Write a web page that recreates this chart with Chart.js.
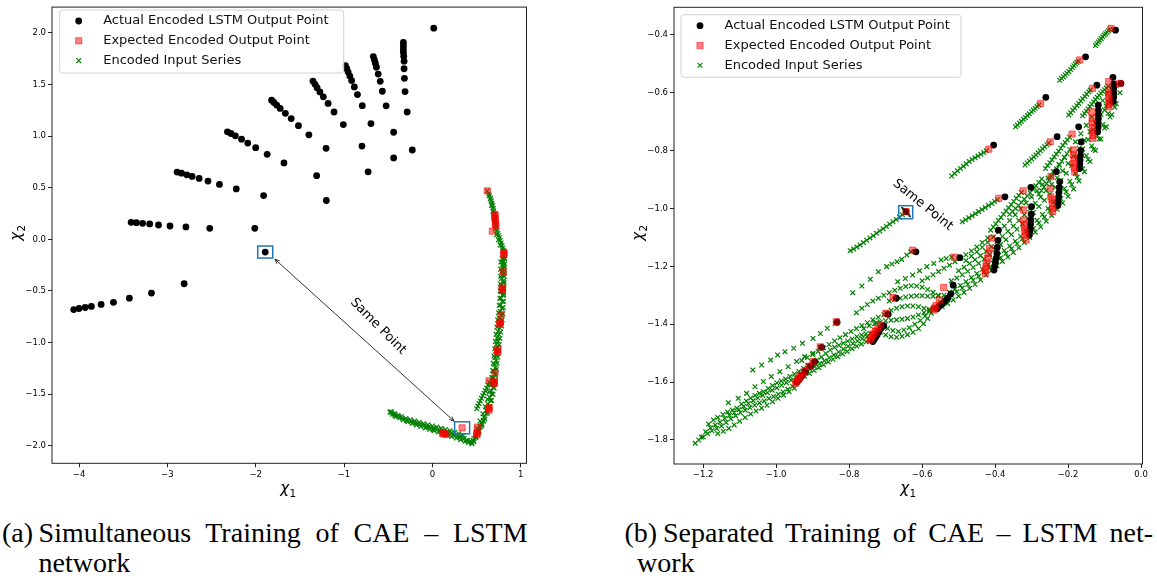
<!DOCTYPE html>
<html>
<head>
<meta charset="utf-8">
<script src="https://cdn.jsdelivr.net/npm/chart.js@4.4.0/dist/chart.umd.min.js"></script>
<style>
  body { margin: 0; background: #fff; width: 1157px; height: 585px; position: relative; overflow: hidden; }
  canvas { position: absolute; top: 0; }
  .cap { position: absolute; font-family: "Liberation Serif", serif; font-size: 28px; line-height: 30px; color: #000; white-space: nowrap; }
  .just { text-align: justify; text-align-last: justify; white-space: normal; }
</style>
</head>
<body>
<canvas id="left" width="560" height="500" style="left:0"></canvas>
<canvas id="right" width="567" height="500" style="left:590px"></canvas>

<div class="cap" style="left:2px;top:518px">(a)</div>
<div class="cap just" style="left:38.6px;top:518px;width:489px">Simultaneous Training of CAE – LSTM</div>
<div class="cap" style="left:38.6px;top:548px">network</div>

<div class="cap" style="left:624.4px;top:518px">(b)</div>
<div class="cap just" style="left:663px;top:518px;width:490px">Separated Training of CAE – LSTM net-</div>
<div class="cap" style="left:637px;top:548px">work</div>

<script>
// tick labels
const leftXTicks = [-4, -3, -2, -1, 0, 1];
const leftYTicks = [-2, -1.5, -1, -0.5, 0, 0.5, 1, 1.5, 2];
const rightXTicks = [-1.2, -1.0, -0.8, -0.6, -0.4, -0.2, 0];
const rightYTicks = [-1.8, -1.6, -1.4, -1.2, -1.0, -0.8, -0.6, -0.4];

const seriesLabels = ["Actual Encoded LSTM Output Point", "Expected Encoded Output Point", "Encoded Input Series"];

// ---------- (a) simultaneous training ----------
const leftActual = [
  [-4.06,-0.68],[-4.00,-0.67],[-3.93,-0.66],[-3.86,-0.65],[-3.75,-0.63],[-3.61,-0.61],[-3.43,-0.57],[-3.18,-0.52],[-2.81,-0.43],
  [-1.892,-0.123],
  [-3.41,0.165],[-3.35,0.161],[-3.28,0.155],[-3.20,0.149],[-3.10,0.139],[-2.97,0.129],[-2.79,0.120],[-2.52,0.107],[-2.01,0.107],
  [-2.89,0.651],[-2.84,0.641],[-2.78,0.625],[-2.72,0.609],[-2.64,0.590],[-2.54,0.564],[-2.41,0.532],[-2.22,0.488],[-1.91,0.424],[-1.20,0.376],
  [-2.32,1.041],[-2.28,1.025],[-2.23,1.002],[-2.16,0.970],[-2.09,0.932],[-2.00,0.888],[-1.87,0.823],[-1.68,0.740],[-1.31,0.616],[-0.727,0.654],
  [-1.820,1.348],[-1.793,1.325],[-1.762,1.300],[-1.723,1.268],[-1.664,1.220],[-1.598,1.169],[-1.516,1.101],[-1.398,1.012],[-1.203,0.881],[-0.438,0.788],
  [-1.352,1.533],[-1.328,1.501],[-1.305,1.469],[-1.273,1.428],[-1.234,1.380],[-1.180,1.316],[-1.113,1.233],[-1.008,1.111],[-0.797,0.903],[-0.227,0.865],
  [-0.984,1.683],[-0.969,1.652],[-0.953,1.620],[-0.934,1.581],[-0.914,1.537],[-0.883,1.476],[-0.848,1.402],[-0.793,1.294],[-0.695,1.121],
  [-0.668,1.770],[-0.656,1.738],[-0.645,1.706],[-0.633,1.667],[-0.613,1.600],[-0.590,1.530],[-0.566,1.434],[-0.523,1.293],[-0.438,1.037],
  [-0.328,1.907],[-0.328,1.876],[-0.328,1.844],[-0.328,1.812],[-0.324,1.773],[-0.320,1.725],[-0.320,1.652],[-0.316,1.559],[-0.309,1.431],[-0.285,1.233],
  [0.016,2.045]
];

const leftExpected = [
  [0.622,0.469],
  [0.709,0.240],[0.709,0.229],[0.710,0.205],[0.712,0.181],[0.717,0.150],[0.717,0.133],
  [0.679,0.079],
  [0.811,-0.130],[0.811,-0.139],[0.809,-0.150],
  [0.803,-0.315],
  [0.792,-0.470],[0.792,-0.481],[0.792,-0.492],
  [0.777,-0.730],
  [0.768,-0.800],[0.766,-0.810],[0.764,-0.822],
  [0.741,-1.070],[0.739,-1.082],[0.738,-1.095],
  [0.709,-1.290],
  [0.703,-1.375],[0.701,-1.386],[0.700,-1.398],
  [0.641,-1.370],
  [0.643,-1.628],[0.641,-1.641],[0.640,-1.655],
  [0.509,-1.818],
  [0.507,-1.870],[0.505,-1.881],[0.505,-1.893],
  [0.337,-1.825],
  [0.115,-1.880],[0.124,-1.881],[0.140,-1.884],[0.161,-1.888]
];

const leftInputMain = [
  [0.622,0.469],[0.644,0.421],[0.667,0.373],[0.683,0.325],[0.694,0.277],[0.705,0.229],[0.713,0.181],[0.720,0.133],
  [0.732,0.085],[0.750,0.037],[0.769,-0.011],[0.788,-0.059],[0.803,-0.107],[0.807,-0.155],[0.807,-0.219],[0.803,-0.283],
  [0.803,-0.347],[0.799,-0.411],[0.799,-0.475],[0.796,-0.539],[0.792,-0.603],[0.788,-0.667],[0.780,-0.731],[0.773,-0.795],
  [0.765,-0.859],[0.754,-0.922],[0.746,-0.986],[0.739,-1.050],[0.731,-1.114],[0.724,-1.178],[0.716,-1.242],[0.709,-1.306],
  [0.701,-1.370],[0.690,-1.434],[0.675,-1.497],[0.660,-1.562],[0.637,-1.626],[0.611,-1.689],[0.577,-1.753],[0.539,-1.818],
  [0.501,-1.881],[0.471,-1.929],[0.437,-1.962]
];
const leftInputSecond = [
  [0.640,0.440],[0.660,0.400],[0.675,0.350],[0.690,0.300],[0.700,0.250],[0.710,0.200],[0.715,0.155],[0.725,0.110],
  [0.740,0.060],[0.760,0.015],[0.778,-0.035],[0.795,-0.083],
  [0.790,-0.187],[0.788,-0.251],[0.786,-0.315],[0.784,-0.379],[0.782,-0.443],[0.780,-0.507],[0.777,-0.571],[0.773,-0.635],
  [0.768,-0.699],[0.760,-0.763],[0.752,-0.827],[0.743,-0.890],[0.733,-0.954],[0.724,-1.018],[0.716,-1.082],[0.708,-1.146],
  [0.700,-1.210],[0.692,-1.274],[0.684,-1.338],[0.676,-1.402],[0.664,-1.466],[0.648,-1.530],[0.630,-1.594],[0.610,-1.658],
  [0.588,-1.722],[0.560,-1.786],[0.525,-1.850],[0.490,-1.905],[0.460,-1.945]
];
const leftInputThird = [
  [0.815,-0.120],[0.818,-0.180],[0.817,-0.240],[0.815,-0.300],[0.814,-0.360],[0.812,-0.420],[0.810,-0.480],[0.808,-0.540],
  [0.805,-0.600],[0.802,-0.660],[0.797,-0.720],[0.790,-0.780],[0.783,-0.840],[0.774,-0.900],[0.765,-0.960],[0.757,-1.020],
  [0.749,-1.080],[0.741,-1.140],[0.733,-1.200],[0.725,-1.260],[0.718,-1.320],[0.710,-1.380],[0.700,-1.440],[0.687,-1.500],
  [0.670,-1.560],[0.650,-1.620],[0.625,-1.680],[0.595,-1.740],[0.562,-1.800],[0.528,-1.860],[0.495,-1.915],[0.465,-1.955]
];
const leftInputFourth = [
  [0.775,-0.220],[0.773,-0.290],[0.772,-0.360],[0.770,-0.430],[0.768,-0.500],[0.764,-0.570],[0.758,-0.640],[0.750,-0.710],
  [0.740,-0.780],[0.730,-0.850],[0.722,-0.920],[0.714,-0.990],[0.706,-1.060],[0.698,-1.130],[0.690,-1.200],[0.682,-1.270],
  [0.673,-1.340],[0.660,-1.410],[0.644,-1.480],[0.625,-1.550],[0.600,-1.620],[0.572,-1.690],[0.540,-1.760],[0.505,-1.830],
  [0.655,0.390],[0.668,0.330],[0.685,0.270],[0.696,0.215],[0.702,0.160],[0.712,0.100],[0.728,0.045],[0.748,-0.005],[0.768,-0.055]
];
const leftInputCorner = [
  [0.450,-1.980],[0.470,-1.960],[0.490,-1.920],[0.520,-1.870],[0.550,-1.810],[0.580,-1.760],
  [0.815,-0.190],[0.812,-0.260],[0.812,-0.330],[0.808,-0.400],[0.806,-0.460],[0.805,-0.520]
];
const leftInputArmUpper = [
  [-0.470,-1.668],[-0.430,-1.690],[-0.390,-1.706],[-0.350,-1.718],[-0.300,-1.735],[-0.250,-1.748],[-0.200,-1.760],
  [-0.150,-1.772],[-0.100,-1.785],[-0.050,-1.796],[0.000,-1.808],[0.050,-1.818],[0.100,-1.830],[0.150,-1.842],
  [0.200,-1.855],[0.250,-1.868],[0.300,-1.882],[0.350,-1.900]
];
const leftInputArmMid = [
  [-0.460,-1.680],[-0.420,-1.698],[-0.380,-1.716],[-0.340,-1.732],[-0.290,-1.748],[-0.240,-1.763],[-0.190,-1.778],
  [-0.140,-1.790],[-0.090,-1.803],[-0.040,-1.816],[0.010,-1.830],[0.060,-1.842],[0.110,-1.855],[0.160,-1.866],
  [0.210,-1.880],[0.260,-1.895],[0.310,-1.910],[0.360,-1.928],[0.400,-1.950]
];
const leftInputArmLower = [
  [-0.480,-1.674],[-0.450,-1.695],[-0.424,-1.706],[-0.410,-1.715],[-0.367,-1.728],[-0.330,-1.748],[-0.291,-1.754],
  [-0.280,-1.766],[-0.230,-1.782],[-0.216,-1.776],[-0.180,-1.797],[-0.140,-1.792],[-0.130,-1.812],[-0.080,-1.826],
  [-0.065,-1.818],[-0.030,-1.840],[0.010,-1.843],[0.020,-1.853],[0.070,-1.866],[0.086,-1.859],[0.120,-1.880],
  [0.162,-1.875],[0.170,-1.895],[0.220,-1.910],[0.237,-1.891],[0.270,-1.925],[0.313,-1.920],[0.320,-1.940],
  [0.370,-1.955],[0.388,-1.945],[0.410,-1.968],[0.445,-1.971]
];
const leftInputBranch = [
  [0.502,-1.641],[0.515,-1.615],[0.528,-1.590],[0.542,-1.565],[0.556,-1.540],[0.570,-1.515],
  [0.585,-1.490],[0.600,-1.465],[0.615,-1.440],[0.630,-1.410],[0.645,-1.385]
];
const leftInput = [...leftInputMain, ...leftInputSecond, ...leftInputThird, ...leftInputFourth, ...leftInputCorner,
  ...leftInputArmUpper, ...leftInputArmMid, ...leftInputArmLower, ...leftInputBranch];

// ---------- (b) separated training ----------
const rightActual = [
  [-0.070,-0.384],[-0.152,-0.476],[-0.261,-0.616],[-0.404,-0.781],[-0.644,-1.011],[-0.617,-1.150],[-0.497,-1.170],
  [-0.373,-0.960],[-0.302,-0.927],[-0.230,-0.752],[-0.171,-0.718],[-0.121,-0.574],[-0.077,-0.547],[-0.055,-0.568],
  [-0.943,-1.600],[-0.938,-1.592],[-0.934,-1.585],[-0.929,-1.578],[-0.920,-1.563],[-0.906,-1.545],[-0.895,-1.530],[-0.875,-1.480],[-0.833,-1.393],
  [-0.735,-1.460],[-0.731,-1.452],[-0.727,-1.444],[-0.723,-1.436],[-0.718,-1.426],[-0.712,-1.413],[-0.705,-1.405],[-0.693,-1.366],[-0.671,-1.310],
  [-0.558,-1.345],[-0.553,-1.338],[-0.545,-1.330],[-0.538,-1.320],[-0.530,-1.310],[-0.521,-1.295],[-0.515,-1.265],
  [-0.403,-1.213],[-0.401,-1.200],[-0.399,-1.187],[-0.397,-1.172],[-0.395,-1.155],[-0.394,-1.135],[-0.392,-1.110],[-0.391,-1.075],
  [-0.306,-1.092],[-0.305,-1.080],[-0.304,-1.068],[-0.303,-1.055],[-0.302,-1.040],[-0.301,-1.020],[-0.300,-0.994],
  [-0.228,-0.990],[-0.227,-0.975],[-0.226,-0.960],[-0.225,-0.945],[-0.224,-0.928],[-0.223,-0.908],[-0.232,-0.873],
  [-0.169,-0.862],[-0.168,-0.848],[-0.167,-0.833],[-0.166,-0.818],[-0.165,-0.800],[-0.164,-0.770],
  [-0.119,-0.735],[-0.118,-0.720],[-0.118,-0.705],[-0.117,-0.690],[-0.117,-0.675],[-0.117,-0.660],[-0.117,-0.643],
  [-0.076,-0.630],[-0.075,-0.615],[-0.075,-0.600],[-0.075,-0.585],[-0.075,-0.570]
];

const rightExpected = [
  [-0.082,-0.378],[-0.168,-0.487],[-0.275,-0.637],[-0.417,-0.795],[-0.644,-1.011],[-0.626,-1.144],[-0.512,-1.168],
  [-0.390,-0.965],[-0.323,-0.939],[-0.249,-0.770],[-0.189,-0.743],[-0.133,-0.585],[-0.089,-0.562],[-0.059,-0.568],
  [-0.947,-1.604],[-0.943,-1.597],[-0.939,-1.590],[-0.935,-1.583],[-0.930,-1.575],[-0.922,-1.563],[-0.910,-1.545],[-0.899,-1.529],[-0.879,-1.478],[-0.835,-1.391],
  [-0.743,-1.455],[-0.740,-1.448],[-0.737,-1.441],[-0.733,-1.433],[-0.728,-1.425],[-0.722,-1.415],[-0.714,-1.403],[-0.699,-1.362],[-0.680,-1.308],
  [-0.568,-1.351],[-0.566,-1.344],[-0.562,-1.336],[-0.553,-1.316],[-0.541,-1.273],
  [-0.427,-1.224],[-0.426,-1.212],[-0.425,-1.200],[-0.423,-1.188],[-0.421,-1.172],[-0.418,-1.155],[-0.415,-1.138],[-0.409,-1.103],
  [-0.322,-1.005],[-0.322,-1.040],[-0.320,-1.055],[-0.319,-1.068],[-0.318,-1.080],[-0.317,-1.092],[-0.315,-1.109],
  [-0.247,-0.890],[-0.249,-0.931],[-0.247,-0.960],[-0.244,-0.970],[-0.243,-0.985],[-0.242,-1.000],[-0.242,-1.011],
  [-0.186,-0.798],[-0.185,-0.815],[-0.184,-0.830],[-0.184,-0.845],[-0.183,-0.858],[-0.182,-0.873],
  [-0.135,-0.666],[-0.134,-0.690],[-0.134,-0.705],[-0.133,-0.720],[-0.133,-0.735],[-0.132,-0.748],[-0.132,-0.758],
  [-0.089,-0.590],[-0.089,-0.605],[-0.088,-0.618],[-0.088,-0.630],[-0.088,-0.641],[-0.088,-0.649]
];

const rightTop = [
  [-0.125,-0.437],[-0.121,-0.431],[-0.117,-0.425],[-0.113,-0.419],[-0.109,-0.413],[-0.105,-0.407],[-0.101,-0.401],[-0.097,-0.396],[-0.093,-0.391],[-0.089,-0.386],[-0.085,-0.381],
  [-0.223,-0.557],[-0.218,-0.551],[-0.213,-0.545],[-0.208,-0.539],[-0.203,-0.533],[-0.198,-0.527],[-0.193,-0.520],[-0.188,-0.513],[-0.184,-0.507],[-0.180,-0.501],[-0.176,-0.496],[-0.172,-0.491],
  [-0.344,-0.718],[-0.339,-0.712],[-0.333,-0.705],[-0.328,-0.699],[-0.322,-0.692],[-0.317,-0.686],[-0.311,-0.679],[-0.306,-0.673],[-0.300,-0.666],[-0.295,-0.660],[-0.290,-0.654],[-0.285,-0.648],[-0.280,-0.643],
  [-0.519,-0.888],[-0.511,-0.879],[-0.503,-0.870],[-0.495,-0.862],[-0.487,-0.854],[-0.479,-0.846],[-0.471,-0.838],[-0.463,-0.831],[-0.455,-0.825],[-0.447,-0.819],[-0.439,-0.813],[-0.431,-0.807],[-0.424,-0.801]
];
const rightMid = [
  [-0.797,-1.146],[-0.788,-1.140],[-0.779,-1.133],[-0.770,-1.126],[-0.761,-1.118],[-0.752,-1.110],[-0.743,-1.102],[-0.734,-1.094],[-0.725,-1.086],
  [-0.716,-1.078],[-0.707,-1.070],[-0.698,-1.062],[-0.689,-1.054],[-0.680,-1.046],[-0.671,-1.038],[-0.662,-1.030],[-0.654,-1.022],
  [-0.790,-1.291],[-0.765,-1.268],[-0.742,-1.245],[-0.720,-1.219],[-0.697,-1.201],[-0.683,-1.192],[-0.669,-1.184],[-0.656,-1.176],[-0.642,-1.161],[-0.631,-1.150],
  [-0.667,-1.253],[-0.646,-1.242],[-0.626,-1.230],[-0.607,-1.215],[-0.587,-1.201],[-0.568,-1.190],[-0.548,-1.178],[-0.534,-1.173],[-0.519,-1.168]
];
const rightDiagonals = [
  [-0.490,-1.046],[-0.481,-1.039],[-0.472,-1.032],[-0.463,-1.025],[-0.454,-1.018],[-0.445,-1.011],[-0.436,-1.004],[-0.427,-0.997],[-0.418,-0.990],[-0.409,-0.983],[-0.401,-0.976],[-0.394,-0.970],
  [-0.412,-1.075],[-0.405,-1.064],[-0.398,-1.053],[-0.391,-1.042],[-0.384,-1.031],[-0.377,-1.020],[-0.370,-1.009],[-0.363,-0.998],[-0.356,-0.987],[-0.349,-0.976],[-0.342,-0.965],[-0.335,-0.955],[-0.328,-0.945],
  [-0.318,-0.850],[-0.312,-0.843],[-0.306,-0.836],[-0.300,-0.829],[-0.294,-0.822],[-0.288,-0.815],[-0.282,-0.808],[-0.276,-0.801],[-0.270,-0.794],[-0.264,-0.787],[-0.258,-0.780],[-0.253,-0.774],
  [-0.262,-0.862],[-0.256,-0.852],[-0.250,-0.842],[-0.244,-0.832],[-0.238,-0.822],[-0.232,-0.812],[-0.226,-0.802],[-0.220,-0.792],[-0.214,-0.782],[-0.208,-0.772],[-0.202,-0.763],[-0.196,-0.754],
  [-0.198,-0.677],[-0.193,-0.669],[-0.187,-0.661],[-0.182,-0.653],[-0.176,-0.645],[-0.171,-0.637],[-0.165,-0.629],[-0.160,-0.621],[-0.154,-0.613],[-0.149,-0.605],[-0.143,-0.597],[-0.139,-0.591],
  [-0.160,-0.680],[-0.155,-0.672],[-0.150,-0.664],[-0.145,-0.656],[-0.140,-0.648],[-0.135,-0.640],[-0.130,-0.632],[-0.125,-0.624],[-0.120,-0.616],[-0.115,-0.609],[-0.110,-0.602],[-0.105,-0.596],[-0.100,-0.590],[-0.095,-0.584],[-0.090,-0.578],
  [-0.360,-1.020],[-0.352,-1.010],[-0.344,-1.000],[-0.336,-0.990],[-0.328,-0.979],[-0.320,-0.968],[-0.312,-0.957],[-0.304,-0.946],[-0.296,-0.934],[-0.288,-0.922],[-0.280,-0.910],[-0.272,-0.898],
  [-0.280,-0.950],[-0.273,-0.938],[-0.266,-0.926],[-0.259,-0.914],[-0.252,-0.902],[-0.245,-0.889],[-0.238,-0.876],[-0.231,-0.863],[-0.224,-0.850],[-0.217,-0.837],[-0.210,-0.824],[-0.203,-0.811]
];
const rightBandLeft = [
  [-1.064,-1.558],[-1.040,-1.541],[-1.015,-1.524],[-0.996,-1.506],[-0.976,-1.495],[-0.952,-1.483],[-0.928,-1.466],[-0.899,-1.449],[-0.879,-1.432],[-0.860,-1.414],[-0.838,-1.398],
  [-1.131,-1.671],[-1.104,-1.656],[-1.081,-1.639],[-1.058,-1.616],[-1.035,-1.598],[-1.013,-1.581],[-0.990,-1.564],[-0.967,-1.547],[-0.944,-1.529],[-0.922,-1.512],[-0.899,-1.500],[-0.880,-1.480],
  [-1.222,-1.811],[-1.212,-1.800],[-1.200,-1.790],[-1.188,-1.778],[-1.176,-1.768],[-1.163,-1.760],[-1.150,-1.752],[-1.137,-1.740],[-1.124,-1.727],[-1.111,-1.716],[-1.098,-1.706],[-1.085,-1.697],
  [-1.072,-1.688],[-1.059,-1.680],[-1.046,-1.672],[-1.033,-1.665],[-1.020,-1.657],[-1.007,-1.650],[-0.994,-1.642],[-0.981,-1.634],[-0.968,-1.625],[-0.955,-1.615],[-0.947,-1.606],
  [-1.185,-1.745],[-1.172,-1.731],[-1.160,-1.722],[-1.146,-1.712],[-1.133,-1.703],[-1.120,-1.697],[-1.108,-1.690],[-1.095,-1.676],[-1.082,-1.665],[-1.070,-1.655],[-1.058,-1.646],[-1.046,-1.639],
  [-1.035,-1.633],[-1.022,-1.622],[-1.010,-1.612],[-0.998,-1.603],[-0.986,-1.596],[-0.974,-1.589],[-0.962,-1.581],[-0.950,-1.572],[-0.938,-1.563],[-0.925,-1.553],[-0.913,-1.543],[-0.900,-1.534],
  [-0.888,-1.524],[-0.876,-1.513],[-0.864,-1.501],[-0.852,-1.489],[-0.840,-1.480],[-0.828,-1.473],[-0.816,-1.466],[-0.804,-1.458],[-0.792,-1.451],[-0.779,-1.443],[-0.766,-1.437],[-0.754,-1.433],[-0.742,-1.431],
  [-1.160,-1.778],[-1.145,-1.770],[-1.130,-1.760],[-1.115,-1.748],[-1.100,-1.735],[-1.085,-1.722],[-1.070,-1.710],[-1.055,-1.700],[-1.040,-1.690],[-1.025,-1.680],[-1.010,-1.668],[-0.995,-1.656],[-0.980,-1.645],[-0.965,-1.633],[-0.950,-1.621],
  [-0.935,-1.590],[-0.922,-1.580],[-0.909,-1.570],[-0.896,-1.560],[-0.883,-1.550],[-0.870,-1.540],[-0.857,-1.530],[-0.844,-1.521],[-0.831,-1.512],[-0.818,-1.503],[-0.805,-1.494],[-0.792,-1.485],[-0.779,-1.476],[-0.766,-1.468],[-0.753,-1.461],[-0.743,-1.456],
  [-0.930,-1.525],[-0.915,-1.515],[-0.900,-1.505],[-0.885,-1.494],[-0.870,-1.482],[-0.855,-1.470],[-0.840,-1.458],[-0.825,-1.447],[-0.810,-1.436],[-0.795,-1.425],[-0.780,-1.415],[-0.765,-1.405],[-0.750,-1.395],[-0.735,-1.385],[-0.720,-1.376],[-0.705,-1.367],
  [-1.205,-1.790],[-1.193,-1.772],[-1.180,-1.758],[-1.167,-1.748],[-1.154,-1.738],[-1.141,-1.726],[-1.128,-1.715],[-1.115,-1.706],[-1.102,-1.695],[-1.089,-1.684],[-1.076,-1.674],[-1.063,-1.664],
  [-1.050,-1.655],[-1.037,-1.646],[-1.024,-1.637],[-1.011,-1.628],[-0.998,-1.620],[-0.985,-1.611],[-0.972,-1.602],[-0.959,-1.594],[-0.946,-1.585],[-0.933,-1.576],[-0.920,-1.566],[-0.907,-1.556],
  [-0.894,-1.546],[-0.881,-1.536],[-0.868,-1.526],[-0.855,-1.516],[-0.842,-1.506],[-0.829,-1.496],[-0.816,-1.486],[-0.803,-1.476],[-0.790,-1.467],[-0.777,-1.458],[-0.764,-1.450],[-0.751,-1.443]
];
const rightWaves = [
  [-0.730,-1.420],[-0.715,-1.428],[-0.700,-1.437],[-0.685,-1.443],[-0.670,-1.445],[-0.655,-1.442],[-0.640,-1.436],[-0.625,-1.428],[-0.610,-1.415],[-0.596,-1.398],[-0.585,-1.380],[-0.575,-1.362],[-0.566,-1.348],
  [-0.725,-1.395],[-0.710,-1.405],[-0.695,-1.415],[-0.680,-1.422],[-0.665,-1.425],[-0.650,-1.420],[-0.635,-1.412],[-0.620,-1.400],[-0.605,-1.387],[-0.592,-1.372],[-0.580,-1.357],[-0.569,-1.345],
  [-0.780,-1.360],[-0.765,-1.345],[-0.750,-1.332],[-0.735,-1.320],[-0.720,-1.310],[-0.705,-1.300],[-0.690,-1.291],[-0.675,-1.283],[-0.660,-1.276],[-0.645,-1.270],[-0.630,-1.267],[-0.615,-1.268],[-0.600,-1.272],[-0.585,-1.280],[-0.570,-1.290],[-0.556,-1.300],
  [-0.700,-1.360],[-0.685,-1.352],[-0.670,-1.345],[-0.655,-1.340],[-0.640,-1.337],[-0.625,-1.337],[-0.610,-1.340],[-0.595,-1.345],[-0.580,-1.348],
  [-0.760,-1.415],[-0.745,-1.405],[-0.730,-1.398],[-0.715,-1.392],[-0.700,-1.388],[-0.685,-1.386],[-0.670,-1.385],[-0.655,-1.383],[-0.640,-1.380],[-0.625,-1.375],[-0.610,-1.368],[-0.595,-1.360],[-0.580,-1.352],[-0.565,-1.342],
  [-0.690,-1.320],[-0.675,-1.315],[-0.660,-1.310],[-0.645,-1.306],[-0.630,-1.303],[-0.615,-1.302],[-0.600,-1.302],[-0.585,-1.303],[-0.570,-1.303],[-0.555,-1.302]
];
const rightBandRight = [
  [-0.560,-1.350],[-0.545,-1.340],[-0.530,-1.328],[-0.515,-1.316],[-0.500,-1.303],[-0.485,-1.290],[-0.470,-1.276],[-0.455,-1.262],[-0.440,-1.247],[-0.425,-1.230],[-0.410,-1.214],[-0.395,-1.198],
  [-0.380,-1.183],[-0.365,-1.168],[-0.350,-1.152],[-0.335,-1.136],[-0.320,-1.118],[-0.305,-1.100],[-0.290,-1.082],[-0.275,-1.064],[-0.260,-1.044],[-0.245,-1.024],[-0.230,-1.003],[-0.215,-0.981],
  [-0.200,-0.958],[-0.185,-0.933],[-0.170,-0.905],[-0.155,-0.873],[-0.140,-0.838],[-0.125,-0.800],[-0.110,-0.760],[-0.095,-0.718],[-0.080,-0.676],[-0.068,-0.638],[-0.058,-0.600],
  [-0.540,-1.300],[-0.525,-1.290],[-0.510,-1.278],[-0.495,-1.266],[-0.480,-1.253],[-0.465,-1.239],[-0.450,-1.225],[-0.435,-1.210],[-0.420,-1.194],[-0.405,-1.178],[-0.390,-1.162],[-0.375,-1.146],
  [-0.360,-1.130],[-0.345,-1.113],[-0.330,-1.096],[-0.315,-1.078],[-0.300,-1.060],[-0.285,-1.041],[-0.270,-1.021],[-0.255,-1.000],[-0.240,-0.978],[-0.225,-0.955],[-0.210,-0.931],[-0.195,-0.906],
  [-0.180,-0.879],[-0.165,-0.850],[-0.150,-0.818],[-0.135,-0.784],[-0.120,-0.748],[-0.105,-0.710],[-0.090,-0.672],[-0.078,-0.640],
  [-0.520,-1.250],[-0.505,-1.240],[-0.490,-1.229],[-0.475,-1.217],[-0.460,-1.204],[-0.445,-1.190],[-0.430,-1.175],[-0.415,-1.159],[-0.400,-1.142],[-0.385,-1.125],[-0.370,-1.108],[-0.355,-1.090],
  [-0.340,-1.072],[-0.325,-1.053],[-0.310,-1.034],[-0.295,-1.014],[-0.280,-0.993],[-0.265,-0.972],[-0.250,-0.950],[-0.235,-0.927],[-0.220,-0.903],[-0.205,-0.878],[-0.190,-0.852],[-0.175,-0.824],
  [-0.160,-0.794],[-0.145,-0.762],[-0.130,-0.728],[-0.115,-0.694],[-0.100,-0.660],[-0.088,-0.632],
  [-0.480,-1.180],[-0.465,-1.165],[-0.450,-1.150],[-0.435,-1.134],[-0.420,-1.117],[-0.405,-1.099],[-0.390,-1.080],[-0.375,-1.061],[-0.360,-1.042],[-0.345,-1.022],[-0.330,-1.002],[-0.315,-0.981],
  [-0.300,-0.960],[-0.285,-0.939],[-0.270,-0.917],[-0.255,-0.895],[-0.240,-0.872],[-0.225,-0.848],[-0.210,-0.823],[-0.195,-0.797],[-0.180,-0.770],[-0.165,-0.742],[-0.150,-0.713],[-0.135,-0.684],
  [-0.120,-0.655],[-0.105,-0.627],[-0.092,-0.603],[-0.080,-0.585],[-0.068,-0.575],
  [-0.600,-1.250],[-0.585,-1.240],[-0.570,-1.229],[-0.555,-1.218],[-0.540,-1.207],[-0.525,-1.196],[-0.510,-1.184],[-0.495,-1.172],[-0.480,-1.160],[-0.465,-1.147],[-0.450,-1.133],[-0.435,-1.118],[-0.420,-1.102],
  [-0.550,-1.325],[-0.535,-1.313],[-0.520,-1.300],[-0.505,-1.288],[-0.490,-1.275],[-0.475,-1.262],[-0.460,-1.248],[-0.445,-1.234],[-0.430,-1.219],[-0.415,-1.203],[-0.400,-1.187],
  [-0.385,-1.171],[-0.370,-1.155],[-0.355,-1.139],[-0.340,-1.122],[-0.325,-1.105],[-0.310,-1.087],[-0.295,-1.069],[-0.280,-1.050],[-0.265,-1.030],[-0.250,-1.009],[-0.235,-0.988],
  [-0.220,-0.966],[-0.205,-0.943],[-0.190,-0.918],[-0.175,-0.892],[-0.160,-0.863],[-0.145,-0.831],[-0.130,-0.796],[-0.115,-0.760],[-0.100,-0.722],[-0.085,-0.684],[-0.072,-0.650],
  [-0.500,-1.215],[-0.485,-1.203],[-0.470,-1.190],[-0.455,-1.177],[-0.440,-1.163],[-0.425,-1.148],[-0.410,-1.132],[-0.395,-1.115],[-0.380,-1.097],[-0.365,-1.079],
  [-0.350,-1.061],[-0.335,-1.042],[-0.320,-1.022],[-0.305,-1.002],[-0.290,-0.982],[-0.275,-0.961],[-0.260,-0.939],[-0.245,-0.917],[-0.230,-0.894],[-0.215,-0.870],
  [-0.200,-0.845],[-0.185,-0.819],[-0.170,-0.792],[-0.155,-0.764],[-0.140,-0.735],[-0.125,-0.705],[-0.110,-0.675],[-0.096,-0.646],[-0.084,-0.620]
];
const rightInput = [...rightTop, ...rightMid, ...rightDiagonals, ...rightBandLeft, ...rightWaves, ...rightBandRight];

// "Same Point" annotations, in data units
const leftBoxes = [[-1.892, -0.123], [0.337, -1.825]];
const leftArrow = [[-1.782, -0.193], [0.245, -1.760]];
const leftNote = [-0.613, -0.842, 45];
const rightBoxes = [[-0.645, -1.013]];
const rightArrow = [[-0.656, -0.996], [-0.632, -1.029]];
const rightNote = [-0.598, -0.988, 39];

const toXY = arr => arr.map(p => ({ x: p[0], y: p[1] }));
const minus = s => s.replace('-', '\u2212');

function drawMarker(ctx, kind, x, y) {
  ctx.save();
  if (kind === 0) {
    ctx.fillStyle = '#000';
    ctx.beginPath(); ctx.arc(x, y, 3.4, 0, Math.PI * 2); ctx.fill();
  } else if (kind === 1) {
    const s = 3.1;
    ctx.fillStyle = 'rgba(255,0,0,0.5)'; ctx.strokeStyle = 'rgba(255,0,0,0.5)'; ctx.lineWidth = 1;
    ctx.fillRect(x - s, y - s, 2 * s, 2 * s); ctx.strokeRect(x - s, y - s, 2 * s, 2 * s);
  } else {
    const a = 2.4;
    ctx.strokeStyle = '#008000'; ctx.lineWidth = 1.1;
    ctx.beginPath();
    ctx.moveTo(x - a, y - a); ctx.lineTo(x + a, y + a);
    ctx.moveTo(x - a, y + a); ctx.lineTo(x + a, y - a);
    ctx.stroke();
  }
  ctx.restore();
}

function drawHead(ctx, x, y, ang, len) {
  ctx.beginPath();
  ctx.moveTo(x + len * Math.cos(ang + 0.4), y + len * Math.sin(ang + 0.4));
  ctx.lineTo(x, y);
  ctx.lineTo(x + len * Math.cos(ang - 0.4), y + len * Math.sin(ang - 0.4));
  ctx.stroke();
}

function drawChi(ctx, sub, x, y, vertical) {
  ctx.save();
  ctx.translate(x, y);
  if (vertical) ctx.rotate(-Math.PI / 2);
  ctx.fillStyle = '#000';
  ctx.textAlign = 'left'; ctx.textBaseline = 'alphabetic';
  ctx.font = 'italic 15px "DejaVu Sans"';
  const w1 = ctx.measureText('\u03c7').width;
  ctx.font = '10.5px "DejaVu Sans"';
  const w2 = ctx.measureText(sub).width;
  const x0 = -(w1 + w2) / 2;
  ctx.font = 'italic 15px "DejaVu Sans"';
  ctx.fillText('\u03c7', x0, 0);
  ctx.font = '10.5px "DejaVu Sans"';
  ctx.fillText(sub, x0 + w1 + 0.5, 3.5);
  ctx.restore();
}

// boxes, arrow, rotated note, frame, legend and axis titles
const decor = {
  id: 'decor',
  afterDatasetsDraw(chart, args, o) {
    const ctx = chart.ctx;
    const px = v => chart.scales.x.getPixelForValue(v);
    const py = v => chart.scales.y.getPixelForValue(v);
    ctx.save();
    ctx.strokeStyle = '#1f77b4'; ctx.lineWidth = 1.5;
    o.boxes.forEach(b => ctx.strokeRect(px(b[0]) - o.boxW / 2, py(b[1]) - o.boxH / 2, o.boxW, o.boxH));
    const x1 = px(o.arrow[0][0]), y1 = py(o.arrow[0][1]);
    const x2 = px(o.arrow[1][0]), y2 = py(o.arrow[1][1]);
    ctx.strokeStyle = '#000'; ctx.lineWidth = 0.8;
    ctx.beginPath(); ctx.moveTo(x1, y1); ctx.lineTo(x2, y2); ctx.stroke();
    const ang = Math.atan2(y2 - y1, x2 - x1);
    drawHead(ctx, x1, y1, ang, o.head);
    drawHead(ctx, x2, y2, ang + Math.PI, o.head);
    ctx.translate(px(o.note[0]), py(o.note[1]));
    ctx.rotate(o.note[2] * Math.PI / 180);
    ctx.font = '13px "DejaVu Sans"'; ctx.fillStyle = '#000';
    ctx.textAlign = 'center'; ctx.textBaseline = 'middle';
    ctx.fillText('Same Point', 0, 0);
    ctx.restore();
  },
  afterDraw(chart, args, o) {
    const ctx = chart.ctx, a = chart.chartArea;
    ctx.save();
    ctx.strokeStyle = '#222'; ctx.lineWidth = 1;
    ctx.strokeRect(a.left, a.top, a.right - a.left, a.bottom - a.top);
    // legend
    const L = o.legend;
    ctx.fillStyle = 'rgba(255,255,255,0.85)'; ctx.strokeStyle = '#d0d0d0'; ctx.lineWidth = 1;
    ctx.beginPath(); ctx.roundRect(L.x, L.y, L.w, L.h, 3); ctx.fill(); ctx.stroke();
    ctx.font = '13px "DejaVu Sans"';
    ctx.textAlign = 'left'; ctx.textBaseline = 'middle';
    seriesLabels.forEach((t, i) => {
      const ry = L.y + 11 + i * 19.8;
      drawMarker(ctx, i, L.x + 19, ry);
      ctx.fillStyle = '#111';
      ctx.fillText(t, L.x + 43.5, ry);
    });
    ctx.restore();
    drawChi(ctx, '1', o.xTitle[0], o.xTitle[1], false);
    drawChi(ctx, '2', o.yTitle[0], o.yTitle[1], true);
  }
};

function axis(min, max, ticks, fmt, isX, size) {
  return {
    type: 'linear', min: min, max: max, position: isX ? 'bottom' : 'left',
    afterBuildTicks: s => { s.ticks = ticks.map(v => ({ value: v })); },
    afterFit: s => { if (isX) s.height = size; else s.width = size; },
    grid: { drawOnChartArea: false, drawTicks: true, tickLength: 4, tickWidth: 1, tickColor: '#222' },
    border: { display: false },
    ticks: { autoSkip: false, maxRotation: 0, padding: 2, color: '#000',
             font: { family: 'DejaVu Sans', size: 8.5 }, callback: v => fmt(v) }
  };
}

function makeChart(id, actual, expected, input, scales, padding, decorOpts) {
  return new Chart(document.getElementById(id).getContext('2d'), {
    type: 'scatter',
    data: {
      datasets: [
        { label: seriesLabels[0], data: toXY(actual), pointStyle: 'circle', pointRadius: 3.4,
          backgroundColor: '#000', borderWidth: 0, order: 1 },
        { label: seriesLabels[1], data: toXY(expected), pointStyle: 'rect', pointRadius: 4.4,
          backgroundColor: 'rgba(255,0,0,0.5)', borderColor: 'rgba(255,0,0,0.5)', borderWidth: 1, order: 0 },
        { label: seriesLabels[2], data: toXY(input), pointStyle: 'crossRot', pointRadius: 3.3,
          borderColor: '#008000', backgroundColor: '#008000', borderWidth: 1.2, order: 2 }
      ]
    },
    options: {
      responsive: false, animation: false, devicePixelRatio: 1, events: [],
      layout: { padding: padding },
      scales: scales,
      plugins: { legend: { display: false }, tooltip: { enabled: false }, decor: decorOpts }
    },
    plugins: [decor]
  });
}

makeChart('left', leftActual, leftExpected, leftInput,
  { x: axis(-4.306, 1.066, leftXTicks, v => minus(String(v)), true, 36.7),
    y: axis(-2.169, 2.249, leftYTicks, v => minus(v.toFixed(1)), false, 52) },
  { left: 0, right: 33.5, top: 2.7, bottom: 0 },
  { boxes: leftBoxes, boxW: 15, boxH: 12, arrow: leftArrow, head: 5, note: leftNote,
    legend: { x: 59.7, y: 10, w: 284, h: 63 }, xTitle: [288, 493], yTitle: [21, 233] });

makeChart('right', rightActual, rightExpected, rightInput,
  { x: axis(-1.28, 0.004, rightXTicks, v => minus(v.toFixed(1)), true, 36),
    y: axis(-1.883, -0.305, rightYTicks, v => minus(v.toFixed(1)), false, 84) },
  { left: 0, right: 14.5, top: 7.3, bottom: 0 },
  { boxes: rightBoxes, boxW: 14, boxH: 13, arrow: rightArrow, head: 3, note: rightNote,
    legend: { x: 91, y: 14.7, w: 280, h: 62.6 }, xTitle: [318, 493], yTitle: [53, 233] });
</script>
</body>
</html>
